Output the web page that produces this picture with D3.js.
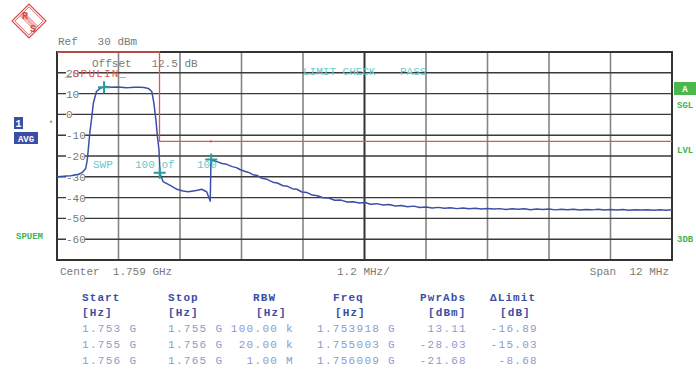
<!DOCTYPE html>
<html>
<head>
<meta charset="utf-8">
<script src="https://cdn.jsdelivr.net/npm/d3@7"></script>
<style>
  body { margin: 0; background: #fff; }
  text { font-family: "Liberation Mono", "DejaVu Sans Mono", monospace; }
</style>
</head>
<body>
<svg id="chart" width="696" height="369"></svg>
<script>
// trace, frequency in MHz, level in dBm
const traceFreq = [1753.00, 1753.09, 1753.18, 1753.27, 1753.35, 1753.42, 1753.49, 1753.56, 1753.59, 1753.61,
  1753.64, 1753.68, 1753.71, 1753.77, 1753.84, 1753.94, 1754.07, 1754.17, 1754.26, 1754.35,
  1754.42, 1754.52, 1754.62, 1754.70, 1754.78, 1754.85, 1754.89, 1754.93, 1754.96, 1754.99,
  1755.01, 1755.07, 1755.20, 1755.34, 1755.46, 1755.56, 1755.66, 1755.74, 1755.82, 1755.92,
  1755.99, 1756.005, 1756.12, 1756.22, 1756.31, 1756.42, 1756.50, 1756.57, 1756.66, 1756.74,
  1756.82, 1756.91, 1757.00, 1757.10, 1757.21, 1757.30, 1757.41, 1757.50, 1757.59, 1757.68,
  1757.78, 1757.88, 1757.98, 1758.08, 1758.19, 1758.30, 1758.42, 1758.54, 1758.66, 1758.78,
  1758.90, 1759.01, 1759.12, 1759.24, 1759.36, 1759.48, 1759.60, 1759.72, 1759.84, 1759.96,
  1760.08, 1760.20, 1760.32, 1760.44, 1760.56, 1760.68, 1760.80, 1760.92, 1761.04, 1761.16,
  1761.28, 1761.40, 1761.52, 1761.64, 1761.76, 1761.88, 1762.00, 1762.12, 1762.24, 1762.36,
  1762.48, 1762.60, 1762.72, 1762.84, 1762.96, 1763.08, 1763.20, 1763.32, 1763.44, 1763.56,
  1763.68, 1763.80, 1763.92, 1764.04, 1764.16, 1764.28, 1764.40, 1764.52, 1764.64, 1764.76,
  1764.88, 1765.00];
const traceLevel = [-30.0, -29.8, -29.6, -29.5, -29.1, -28.8, -28.0, -26.0, -22.0, -17.0,
  -9.0, -1.0, 5.5, 11.0, 12.5, 13.4, 13.1, 13.2, 13.0, 12.8,
  12.9, 13.1, 13.0, 12.9, 12.5, 11.0, 5.5, -2.7, -10.7, -17.0,
  -28.5, -32.3, -34.0, -36.0, -36.8, -37.2, -36.8, -36.5, -36.0, -37.2,
  -41.6, -21.7, -22.7, -23.6, -24.0, -25.1, -25.6, -26.5, -27.3, -27.9,
  -29.0, -29.4, -30.7, -31.2, -32.6, -33.0, -34.3, -34.6, -35.7, -36.0,
  -37.3, -37.6, -38.8, -39.1, -40.1, -40.2, -41.3, -41.2, -42.1, -42.0,
  -42.6, -42.4, -43.2, -42.9, -43.6, -43.3, -44.0, -43.8, -44.4, -44.1,
  -44.8, -44.5, -45.0, -44.7, -45.1, -44.9, -45.3, -45.0, -45.4, -45.1,
  -45.5, -45.2, -45.5, -45.3, -45.7, -45.4, -45.6, -45.4, -45.8, -45.5,
  -45.7, -45.5, -45.9, -45.6, -45.8, -45.6, -46.0, -45.7, -45.9, -45.6,
  -46.0, -45.7, -46.0, -45.7, -46.1, -45.8, -46.0, -45.8, -46.1, -45.8,
  -46.1, -45.9];

const limitFreq = [1753, 1755, 1755, 1756, 1765];
const limitLevel = [30, 30, -13, -13, -13];

const markerFreq = [1753.918, 1755.003, 1756.009];
const markerLevel = [13.11, -28.03, -21.68];

const yTickLabels = [20, 10, 0, -10, -20, -30, -40, -50, -60];

// result table
const colStart = ["1.753 G", "1.755 G", "1.756 G"];
const colStop = ["1.755 G", "1.756 G", "1.765 G"];
const colRbw = ["100.00 k", "20.00 k", "1.00 M"];
const colFreq = ["1.753918 G", "1.755003 G", "1.756009 G"];
const colPwr = ["13.11", "-28.03", "-21.68"];
const colDelta = ["-16.89", "-15.03", "-8.68"];

const svg = d3.select("#chart");
const plotL = 57, plotR = 672, plotT = 52, plotB = 260;

const x = d3.scaleLinear().domain([1753, 1765]).range([plotL, plotR]);
const y = d3.scaleLinear().domain([-70, 30]).range([plotB, plotT]);

const grey = "#7a7a7a", teal = "#66cccc", green = "#3fb34f", blue = "#3a4fa4", paleBlue = "#8f9acd";

// R&S logo
const logo = svg.append("g").attr("transform", "translate(29,21) rotate(45)");
logo.append("rect").attr("x", -12).attr("y", -12).attr("width", 24).attr("height", 24)
  .attr("fill", "none").attr("stroke", "#d24a4a").attr("stroke-width", 1.2);
logo.append("rect").attr("x", -10).attr("y", -10).attr("width", 20).attr("height", 20)
  .attr("fill", "none").attr("stroke", "#d24a4a").attr("stroke-width", 0.8);
for (let i = -3; i <= 3; i++) {
  logo.append("line").attr("x1", -10).attr("x2", 10).attr("y1", i * 0.9).attr("y2", i * 0.9)
    .attr("stroke", "#d24a4a").attr("stroke-width", 0.5);
}
svg.append("text").attr("x", 25).attr("y", 19).attr("text-anchor", "middle")
  .style("font-size", "10px").style("font-weight", "bold").style("fill", "#d24a4a").text("R");
svg.append("text").attr("x", 33).attr("y", 32).attr("text-anchor", "middle")
  .style("font-size", "10px").style("font-weight", "bold").style("fill", "#d24a4a").text("S");

// top texts
svg.append("text").attr("x", 58).attr("y", 45).style("font-size", "11px").style("fill", grey)
  .attr("xml:space", "preserve").text("Ref   30 dBm");

// grid
const hLines = d3.range(-70, 31, 10);
const vLines = d3.range(0, 11).map(i => 1753 + i * 1.2);
svg.append("g").selectAll("line").data(vLines).join("line")
  .attr("x1", d => x(d)).attr("x2", d => x(d)).attr("y1", plotT).attr("y2", plotB)
  .attr("stroke", (d, i) => i === 5 ? "#333" : "#858585").attr("stroke-width", (d, i) => i === 5 ? 2 : 1.6);
svg.append("g").selectAll("line").data(hLines).join("line")
  .attr("x1", plotL).attr("x2", plotR).attr("y1", d => y(d)).attr("y2", d => y(d))
  .attr("stroke", "#3a3a3a").attr("stroke-width", 1.4);
svg.append("rect").attr("x", plotL).attr("y", plotT).attr("width", plotR - plotL).attr("height", plotB - plotT)
  .attr("fill", "none").attr("stroke", "#333").attr("stroke-width", 2);

// y labels sitting on the grid lines
const yl = svg.append("g").selectAll("g").data(yTickLabels).join("g")
  .attr("transform", d => `translate(66,${y(d)})`);
yl.append("rect").attr("x", 0).attr("y", -5).attr("width", d => String(d).length * 6.2).attr("height", 10).attr("fill", "#fff");
yl.append("text").attr("dy", "0.36em").style("font-size", "11px").style("fill", grey).text(d => d);

svg.append("text").attr("x", 92).attr("y", 67).style("font-size", "11px").style("fill", grey)
  .attr("xml:space", "preserve").text("Offset   12.5 dB");

// limit line
const lim = limitFreq.map((f, i) => [f, limitLevel[i]]);
svg.append("path").datum(lim)
  .attr("d", d3.line().x(d => x(d[0])).y(d => y(d[1])))
  .attr("fill", "none").attr("stroke", "#e05656").attr("stroke-width", 1.3);
svg.append("rect").attr("x", x(limitFreq[3]) - 1).attr("y", y(limitLevel[3]) - 1).attr("width", 2).attr("height", 2).attr("fill", "#e05656");

svg.append("text").attr("x", 65).attr("y", 77).style("font-size", "11px").style("fill", "#e05656")
  .style("letter-spacing", "1.2px").text("_SPULIN_");

svg.append("text").attr("x", 303).attr("y", 75).style("font-size", "11px").style("fill", teal).text("LIMIT CHECK");
svg.append("text").attr("x", 400).attr("y", 75).style("font-size", "11px").style("fill", teal).text("PASS");
svg.append("text").attr("x", 93).attr("y", 168).style("font-size", "11px").style("fill", teal).text("SWP");
svg.append("text").attr("x", 135).attr("y", 168).style("font-size", "11px").style("fill", teal).text("100 of");
svg.append("text").attr("x", 197).attr("y", 168).style("font-size", "11px").style("fill", teal).text("100");

// trace
const trace = traceFreq.map((f, i) => [f, traceLevel[i]]);
svg.append("path").datum(trace)
  .attr("d", d3.line().x(d => x(d[0])).y(d => y(d[1])))
  .attr("fill", "none").attr("stroke", "#3b4fa6").attr("stroke-width", 1.5).attr("stroke-linejoin", "round");

// markers
const mk = svg.append("g").selectAll("g").data(markerFreq.map((f, i) => [f, markerLevel[i]])).join("g")
  .attr("transform", d => `translate(${x(d[0])},${y(d[1])})`);
mk.append("path").attr("d", "M-6,0H6M0,-6V6").attr("stroke", "#22a0a0").attr("stroke-width", 2);

// side annotations
svg.append("rect").attr("x", 14).attr("y", 117).attr("width", 9).attr("height", 12).attr("fill", blue);
svg.append("text").attr("x", 18.5).attr("y", 126.5).attr("text-anchor", "middle").style("font-size", "10px")
  .style("font-weight", "bold").style("fill", "#fff").text("1");
svg.append("rect").attr("x", 14).attr("y", 132).attr("width", 24).attr("height", 12).attr("fill", blue);
svg.append("text").attr("x", 26).attr("y", 141.5).attr("text-anchor", "middle").style("font-size", "9px")
  .style("font-weight", "bold").style("fill", "#fff").text("AVG");
svg.append("text").attr("x", 51).attr("y", 127).attr("text-anchor", "middle").style("font-size", "9px")
  .style("fill", green).text("*");
svg.append("text").attr("x", 16).attr("y", 239).style("font-size", "9px").style("font-weight", "bold")
  .style("fill", green).text("SPUEM");

svg.append("rect").attr("x", 674).attr("y", 82).attr("width", 22).attr("height", 13).attr("fill", "#4cb84c");
svg.append("text").attr("x", 685).attr("y", 92).attr("text-anchor", "middle").style("font-size", "9px")
  .style("font-weight", "bold").style("fill", "#fff").text("A");
[["SGL", 108], ["LVL", 153], ["3DB", 242]].forEach(([t, yy]) => {
  svg.append("text").attr("x", 677).attr("y", yy).style("font-size", "9px").style("font-weight", "bold")
    .style("fill", green).text(t);
});

// bottom labels
svg.append("text").attr("x", 60).attr("y", 275).style("font-size", "11px").style("fill", grey)
  .attr("xml:space", "preserve").text("Center  1.759 GHz");
svg.append("text").attr("x", 337).attr("y", 275).style("font-size", "11px").style("fill", grey).text("1.2 MHz/");
svg.append("text").attr("x", 669).attr("y", 275).attr("text-anchor", "end").style("font-size", "11px").style("fill", grey)
  .attr("xml:space", "preserve").text("Span  12 MHz");

// table
const cols = [
  { head: "Start", unit: "[Hz]", hx: 82, ux: 82, vals: colStart, vx: 82, anchor: "start" },
  { head: "Stop", unit: "[Hz]", hx: 168, ux: 168, vals: colStop, vx: 168, anchor: "start" },
  { head: "RBW", unit: "[Hz]", hx: 253, ux: 256, vals: colRbw, vx: 294, anchor: "end" },
  { head: "Freq", unit: "[Hz]", hx: 333, ux: 335, vals: colFreq, vx: 396, anchor: "end" },
  { head: "PwrAbs", unit: "[dBm]", hx: 420, ux: 428, vals: colPwr, vx: 467, anchor: "end" },
  { head: "\u0394Limit", unit: "[dB]", hx: 490, ux: 500, vals: colDelta, vx: 538, anchor: "end" }
];
const rowY = [332, 348, 364];
cols.forEach(c => {
  svg.append("text").attr("x", c.hx).attr("y", 301).style("font-size", "11px").style("font-weight", "bold")
    .style("letter-spacing", "1.1px").style("fill", blue).text(c.head);
  svg.append("text").attr("x", c.ux).attr("y", 316).style("font-size", "11px").style("font-weight", "bold")
    .style("letter-spacing", "1.1px").style("fill", blue).text(c.unit);
  c.vals.forEach((v, i) => {
    svg.append("text").attr("x", c.vx).attr("y", rowY[i]).attr("text-anchor", c.anchor)
      .style("font-size", "11px").style("letter-spacing", "1.3px").style("fill", paleBlue)
      .attr("xml:space", "preserve").text(v);
  });
});
</script>
</body>
</html>
